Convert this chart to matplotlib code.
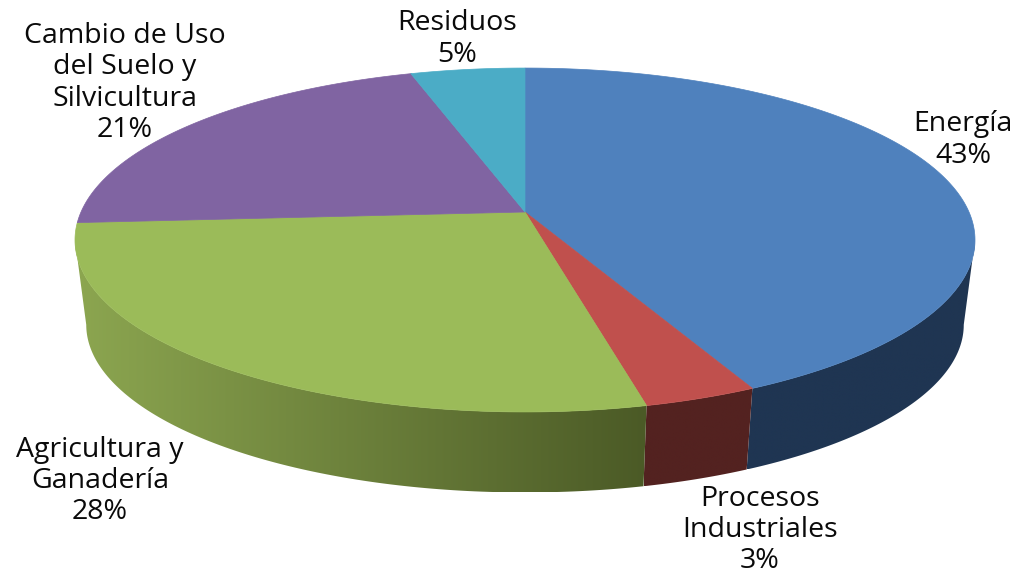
import numpy as np
import matplotlib
matplotlib.use("Agg")
import matplotlib.pyplot as plt
from matplotlib.colors import LinearSegmentedColormap
from matplotlib.patches import Polygon

names = ["Energía", "Procesos\nIndustriales", "Agricultura y\nGanadería",
         "Cambio de Uso\ndel Suelo y\nSilvicultura", "Residuos"]
labels_pct = [43, 3, 28, 21, 5]
# tamano de cada porcion tal como se ve en el dibujo
shares = [42.8, 3.5, 27.7, 21.2, 4.8]

top_colors = ["#4f81bd", "#c0504d", "#9bbb59", "#8064a2", "#4bacc6"]
wall_left = ["#1f3552", "#532220", "#8ca650", "#8064a2", "#4bacc6"]
wall_right = ["#1f3552", "#532220", "#4b5a26", "#8064a2", "#4bacc6"]

label_x = [963, 760, 100, 125, 457]
label_y = [140, 530, 481, 83, 39]

# centro de la tarta y perspectiva (en pixeles de la imagen)
CX, CY = 525, 212
A, B, K = 444, 167.4, 0.1628
DEPTH, SHRINK = 85.5, 0.975


def project(theta):
    u, v = np.sin(theta), -np.cos(theta)
    w = 1 - K * v
    return CX + A * u / w, CY + B * v / w


def project_low(theta):
    x, y = project(theta)
    return CX + SHRINK * (x - CX), CY + SHRINK * (y - CY) + DEPTH


fig = plt.figure(figsize=(10.28, 5.70), dpi=100)
ax = fig.add_axes([0, 0, 1, 1])
ax.axis("off")

edges = np.radians(np.concatenate([[0], np.cumsum(shares)]) * 3.6)
front_start = np.arccos(-K)
front_end = 2 * np.pi - front_start

# paredes laterales
for i in range(len(shares)):
    t0 = max(edges[i], front_start)
    t1 = min(edges[i + 1], front_end)
    if t1 <= t0:
        continue
    t = np.linspace(t0, t1, 120)
    xt, yt = project(t)
    xb, yb = project_low(t)
    pts = np.column_stack([np.r_[xt, xb[::-1]], np.r_[yt, yb[::-1]]])
    cmap = LinearSegmentedColormap.from_list("w", [wall_left[i], wall_right[i]])
    x0, x1 = pts[:, 0].min(), pts[:, 0].max()
    grad = np.linspace(0, 1, 256).reshape(1, -1)
    im = ax.imshow(grad, extent=[x0, x1, pts[:, 1].max(), pts[:, 1].min()],
                   aspect="auto", cmap=cmap, zorder=1, interpolation="bilinear")
    poly = Polygon(pts, closed=True, transform=ax.transData, fc="none", ec="none")
    ax.add_patch(poly)
    im.set_clip_path(poly)

# cara superior
for i in range(len(shares)):
    t = np.linspace(edges[i], edges[i + 1], 200)
    x, y = project(t)
    ax.fill(np.r_[CX, x], np.r_[CY, y], color=top_colors[i], lw=0.5, zorder=2)

for name, val, lx, ly in zip(names, labels_pct, label_x, label_y):
    ax.text(lx, ly, f"{name}\n{val}%", ha="center", va="center", family="Open Sans",
            fontsize=20.5, color="#0a0a0a", linespacing=1.15, zorder=3)

ax.set_xlim(0, 1028)
ax.set_ylim(570, 0)
fig.savefig("out.png", dpi=100, facecolor="white")
